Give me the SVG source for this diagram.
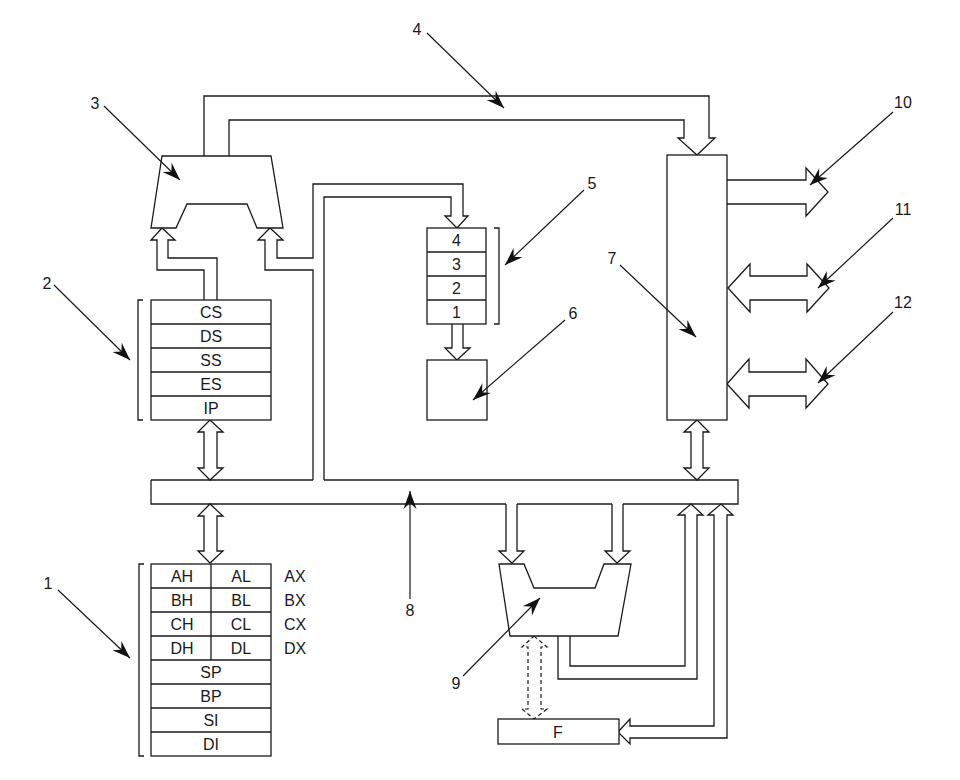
<svg xmlns="http://www.w3.org/2000/svg" width="960" height="780" viewBox="0 0 960 780">
<defs>
<style>
.s{fill:#fff;stroke:#1a1a1a;stroke-width:1.3;stroke-linejoin:miter}
.o{fill:none;stroke:#1a1a1a;stroke-width:1.3}
.d{fill:#fff;stroke:#1a1a1a;stroke-width:1.2;stroke-dasharray:4,3}
.l{fill:none;stroke:#1a1a1a;stroke-width:1.2;marker-end:url(#ah)}
text{font-family:"Liberation Sans",Arial,sans-serif;font-size:16px;fill:#1a1a1a;text-anchor:middle}
</style>
<marker id="ah" markerUnits="userSpaceOnUse" markerWidth="20" markerHeight="16" viewBox="-20 -8 20 16" refX="0" refY="0" orient="auto">
<path d="M0,0 L-18,-6.5 L-12,0 L-18,6.5 z" fill="#111"/>
</marker>
</defs>
<rect width="960" height="780" fill="#fff"/>

<g id="connectors">
<polyline class="o" points="204,156 204,96 709,96 709,138 715,138 697,155 678,138 684,138 684,120 229,120 229,156"/>
<polyline class="o" points="204,300 204,270 157,270 157,240 151,240 162,228 175,240 168,240 168,258 217,258 217,300"/>
<polyline class="o" points="313,480 313,270 265,270 265,240 258,240 270,228 283,240 277,240 277,258 313,258 313,184 463,184 463,216 468,216 457,228 445,216 451,216 451,197 324,197 324,480"/>
<polygon class="s" points="210,420 223,432 217,432 217,468 223,468 210,480 198,468 204,468 204,432 198,432"/>
<polygon class="s" points="210,504 223,516 217,516 217,551 223,551 210,563 198,551 204,551 204,516 198,516"/>
<polyline class="o" points="452,324 452,348 445,348 457,360 470,348 463,348 463,324"/>
<polyline class="o" points="727,180 806,180 806,168 828,192 806,216 806,204 727,204"/>
<polygon class="s" points="728,288 750,264 750,276 807,276 807,264 829,288 807,312 807,300 750,300 750,312"/>
<polygon class="s" points="727,384 749,359 749,372 806,372 806,359 828,384 806,408 806,396 749,396 749,408"/>
<polygon class="s" points="697,420 709,432 703,432 703,468 709,468 697,480 684,468 691,468 691,432 684,432"/>
<polyline class="o" points="506,504 506,551 499,551 512,563 524,551 517,551 517,504"/>
<polyline class="o" points="612,504 612,551 605,551 617,563 630,551 623,551 623,504"/>
<polyline class="o" points="570,636 570,666 685,666 685,515 678,515 691,504 703,515 697,515 697,679 558,679 558,636"/>
<polygon class="s" points="630,726 714,726 714,515 708,515 721,504 733,515 727,515 727,738 630,738 630,744 618,732 630,719"/>
<polygon class="d" points="534,636 547,647 541,647 541,709 547,709 534,719 522,709 528,709 528,647 522,647"/>
</g>

<g id="bus">
<path class="o" d="M151,480 H313 M324,480 H738 V504 H623 M612,504 H517 M506,504 H151 V480"/>
</g>

<g id="adder">
<polygon class="s" points="162,156 271,156 283,228 257,228 247,204 187,204 176,228 151,228"/>
</g>

<g id="segment-registers">
<rect class="s" x="151" y="300" width="120" height="120"/>
<path class="o" d="M151,324 H271 M151,348 H271 M151,372 H271 M151,396 H271"/>
<path class="o" d="M143,300 H138 V420 H143"/>
<text x="211" y="318">CS</text>
<text x="211" y="342">DS</text>
<text x="211" y="366">SS</text>
<text x="211" y="390">ES</text>
<text x="211" y="414">IP</text>
</g>

<g id="general-registers">
<rect class="s" x="151" y="564" width="120" height="192"/>
<path class="o" d="M151,588 H271 M151,612 H271 M151,636 H271 M151,660 H271 M151,684 H271 M151,708 H271 M151,732 H271 M211,564 V660"/>
<path class="o" d="M144,564 H139 V756 H144"/>
<text x="182" y="582">AH</text><text x="241" y="582">AL</text><text x="295" y="582">AX</text>
<text x="182" y="606">BH</text><text x="241" y="606">BL</text><text x="295" y="606">BX</text>
<text x="182" y="630">CH</text><text x="241" y="630">CL</text><text x="295" y="630">CX</text>
<text x="182" y="654">DH</text><text x="241" y="654">DL</text><text x="295" y="654">DX</text>
<text x="211" y="678">SP</text>
<text x="211" y="702">BP</text>
<text x="211" y="726">SI</text>
<text x="211" y="750">DI</text>
</g>

<g id="queue">
<rect class="s" x="427" y="228" width="59" height="96"/>
<path class="o" d="M427,252 H486 M427,276 H486 M427,300 H486"/>
<path class="o" d="M494,228 H499 V324 H494"/>
<text x="456.5" y="246">4</text>
<text x="456.5" y="270">3</text>
<text x="456.5" y="294">2</text>
<text x="456.5" y="318">1</text>
</g>

<g id="decoder">
<rect class="s" x="427" y="360" width="60" height="60"/>
</g>

<g id="bus-interface">
<rect class="s" x="667" y="155" width="60" height="265"/>
</g>

<g id="alu">
<polygon class="s" points="499,564 524,564 534,588 595,588 604,564 631,564 618,636 510,636"/>
</g>

<g id="flags">
<rect class="s" x="498" y="719" width="121" height="25"/>
<text x="558" y="738">F</text>
</g>

<g id="labels">
<line class="l" x1="58" y1="590" x2="130" y2="658"/><text x="48" y="589">1</text>
<line class="l" x1="54" y1="285" x2="130" y2="360"/><text x="47" y="289">2</text>
<line class="l" x1="104" y1="106" x2="180" y2="180"/><text x="95" y="109">3</text>
<line class="l" x1="427" y1="33" x2="504" y2="108"/><text x="417" y="35">4</text>
<line class="l" x1="584" y1="190" x2="505" y2="265"/><text x="592" y="189">5</text>
<line class="l" x1="565" y1="320" x2="473" y2="400"/><text x="573" y="319">6</text>
<line class="l" x1="620" y1="265" x2="696" y2="337"/><text x="612" y="264">7</text>
<line class="l" x1="410" y1="599" x2="410" y2="491"/><text x="410" y="616">8</text>
<line class="l" x1="463" y1="676" x2="540" y2="598"/><text x="456" y="689">9</text>
<line class="l" x1="893" y1="112" x2="810" y2="185"/><text x="903" y="108">10</text>
<line class="l" x1="893" y1="218" x2="818" y2="288"/><text x="903" y="215">11</text>
<line class="l" x1="893" y1="312" x2="818" y2="383"/><text x="903" y="308">12</text>
</g>
</svg>
